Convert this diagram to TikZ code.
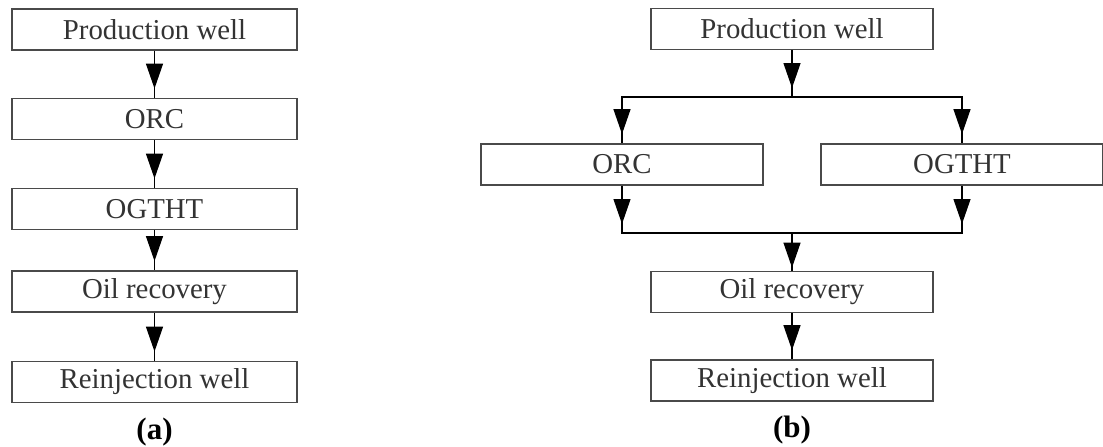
\documentclass[tikz,border=0pt]{standalone}
\usepackage{fontspec}
\setmainfont{Liberation Serif}
\usetikzlibrary{arrows.meta,positioning}
\definecolor{FlowInk}{HTML}{333333}
\definecolor{FlowLine}{HTML}{4A4A4A}

\begin{document}
\begin{tikzpicture}[x=0.5pt,y=-0.5pt,line join=miter,
  stage/.style={draw=FlowLine,line width=0.9pt,minimum height=20.5pt,
    inner sep=0pt,text=FlowInk,font=\fontsize{14.4}{16}\selectfont},
  stagea/.style={stage,minimum width=142.5pt},
  stageb/.style={stage,minimum width=141pt},
  wire/.style={draw=black,line width=0.6pt},
  head/.style={-{Triangle[length=12.5pt,width=8.5pt]},line width=0.6pt,
    shorten >=4.5pt},
  caption/.style={font=\fontsize{15.5}{18}\selectfont\bfseries}]
  \path[use as bounding box] (0,0) rectangle (1103,446);

  % (a) all units in series
  \node[stagea] (pwa)  at (154.5,29.5) {Production well};
  \node[stagea] (orca) at (154.5,119)  {ORC};
  \node[stagea] (oga)  at (154.5,209)  {OGTHT};
  \node[stagea] (oila) at (154.5,291.5) {Oil recovery};
  \node[stagea] (rea)  at (154.5,382)  {Reinjection well};
  \node[caption] (capa) at (154.5,432) {(a)};

  \foreach \from/\to in {pwa/orca,orca/oga,oga/oila,oila/rea} {
    \draw[wire] (\from) -- (\to);
    \draw[head] (\from) -- (\to);
  }

  % (b) ORC and OGTHT in parallel
  \node[stageb] (pwb)  at (792,29)    {Production well};
  \node[stageb] (orcb) at (622,164.5) {ORC};
  \node[stageb] (ogb)  at (962,164.5) {OGTHT};
  \node[stageb] (oilb) at (792,292)   {Oil recovery};
  \node[stageb] (reb)  at (792,380.5) {Reinjection well};
  \node[caption] (capb) at (792,430) {(b)};

  \coordinate (split) at (792,97);
  \coordinate (merge) at (792,233);
  \coordinate (splitl) at (orcb |- split);
  \coordinate (splitr) at (ogb |- split);
  \coordinate (mergel) at (orcb |- merge);
  \coordinate (merger) at (ogb |- merge);

  \draw[wire] (pwb) -- (split);
  \draw[head] (pwb) -- (split);
  \draw[wire] (orcb.north) |- (split) -| (ogb.north);
  \draw[head] (splitl) -- (orcb);
  \draw[head] (splitr) -- (ogb);

  \draw[wire] (orcb.south) |- (merge) -| (ogb.south);
  \draw[head] (orcb) -- (mergel);
  \draw[head] (ogb) -- (merger);
  \draw[wire] (merge) -- (oilb);
  \draw[head,shorten >=1.5pt] (merge) -- (oilb);

  \draw[wire] (oilb) -- (reb);
  \draw[head] (oilb) -- (reb);
\end{tikzpicture}
\end{document}
